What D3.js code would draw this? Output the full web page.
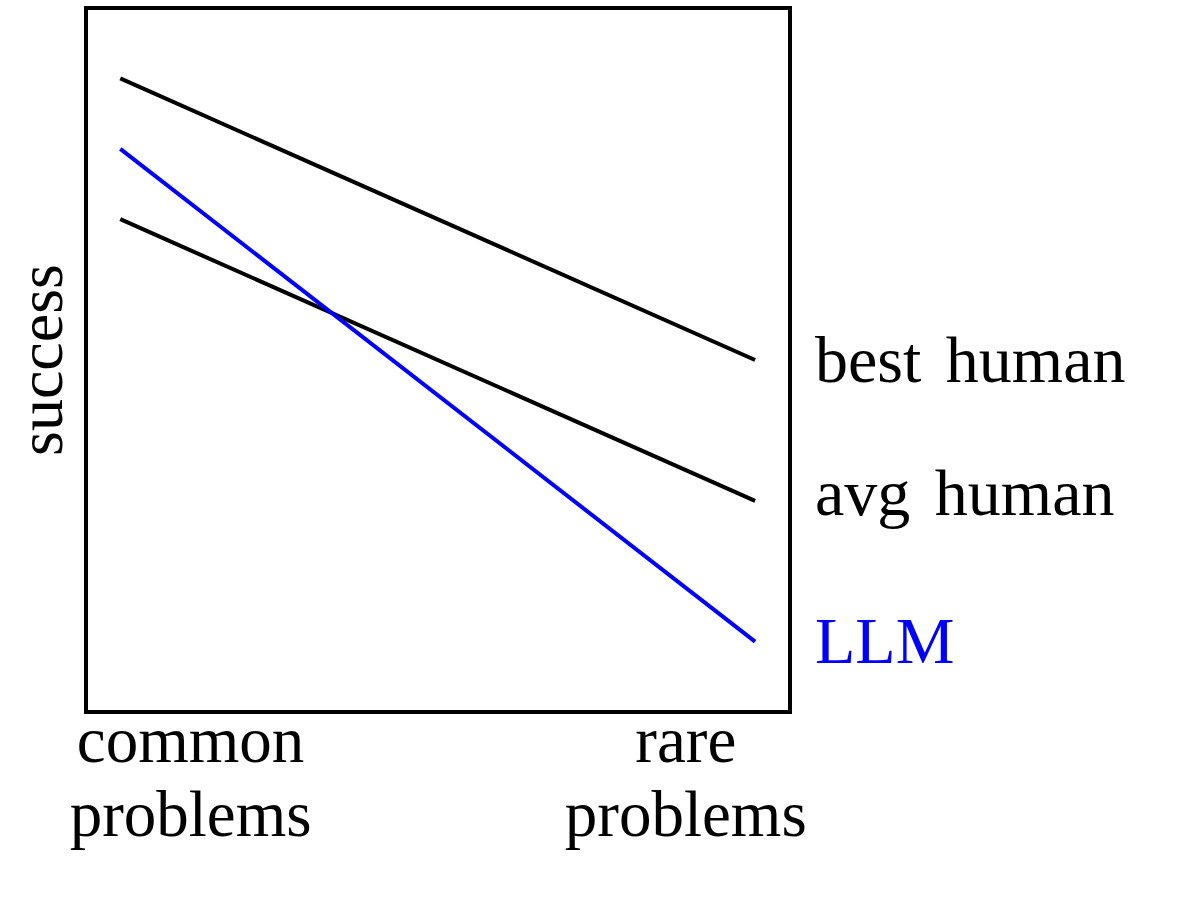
<!DOCTYPE html>
<html>
<head>
<meta charset="utf-8">
<script src="https://cdn.jsdelivr.net/npm/d3@7"></script>
<style>
  html, body { margin: 0; padding: 0; background: #fff; }
  svg text { font-family: "Liberation Serif", "Times New Roman", serif; }
</style>
</head>
<body>
<svg id="chart" width="1200" height="914"></svg>
<script>
// x positions of the two ends of each line (0 = common, 1 = rare)
const xEnds = [0, 1];

const seriesNames = ["best human", "avg human", "LLM"];
const bestHuman = [0.9, 0.5];
const avgHuman = [0.7, 0.3];
const llm = [0.8, 0.1];
const seriesColors = ["#000000", "#000000", "#0000ff"];

const xTickPos = [0.11, 0.89];
const xTickLabels = [["common", "problems"], ["rare", "problems"]];
const yLabel = "success";

const svg = d3.select("#chart");

const box = { left: 86, top: 8, right: 790, bottom: 712 };

const xScale = d3.scaleLinear().domain([-0.054, 1.055]).range([box.left, box.right]);
const yScale = d3.scaleLinear().domain([0, 1]).range([box.bottom, box.top]);

const series = [bestHuman, avgHuman, llm].map((vals, i) => ({
    name: seriesNames[i],
    color: seriesColors[i],
    points: vals.map((v, j) => ({ x: xEnds[j], y: v }))
}));

const line = d3.line()
    .x(d => xScale(d.x))
    .y(d => yScale(d.y));

// the lines
svg.selectAll(".series")
    .data(series)
    .enter()
    .append("path")
        .attr("class", "series")
        .attr("d", d => line(d.points))
        .attr("fill", "none")
        .attr("stroke", d => d.color)
        .attr("stroke-width", 4);

// labels at the right end, roughly centred on the line end
const labelDy = { "best human": 22, "avg human": 14, "LLM": 21 };
svg.selectAll(".series-label")
    .data(series)
    .enter()
    .append("text")
        .attr("class", "series-label")
        .attr("x", 815)
        .attr("y", d => yScale(d.points[1].y) + labelDy[d.name])
        .attr("fill", d => d.color)
        .style("font-size", "66px")
        .style("word-spacing", "8px")
        .text(d => d.name);

// frame
svg.append("rect")
    .attr("x", box.left)
    .attr("y", box.top)
    .attr("width", box.right - box.left)
    .attr("height", box.bottom - box.top)
    .attr("fill", "none")
    .attr("stroke", "#000")
    .attr("stroke-width", 4);

// x axis: no ticks, two-line labels
const xAxis = d3.axisBottom(xScale)
    .tickValues(xTickPos)
    .tickSize(0)
    .tickFormat("");
const gx = svg.append("g")
    .attr("id", "x-axis")
    .attr("transform", `translate(0,${box.bottom})`)
    .call(xAxis);
gx.select(".domain").remove();

gx.selectAll(".tick").each(function(d, i) {
    const t = d3.select(this).select("text")
        .attr("y", 0)
        .attr("dy", null)
        .attr("fill", "#000")
        .style("font-size", "65px")
        .attr("text-anchor", "middle");
    t.selectAll("tspan")
        .data(xTickLabels[i])
        .enter()
        .append("tspan")
            .attr("x", 0)
            .attr("y", (s, k) => 50 + k * 74)
            .text(s => s);
});

// y label
svg.append("text")
    .attr("transform", `translate(62,${(box.top + box.bottom) / 2}) rotate(-90)`)
    .attr("text-anchor", "middle")
    .attr("fill", "#000")
    .style("font-size", "64px")
    .text(yLabel);
</script>
</body>
</html>
